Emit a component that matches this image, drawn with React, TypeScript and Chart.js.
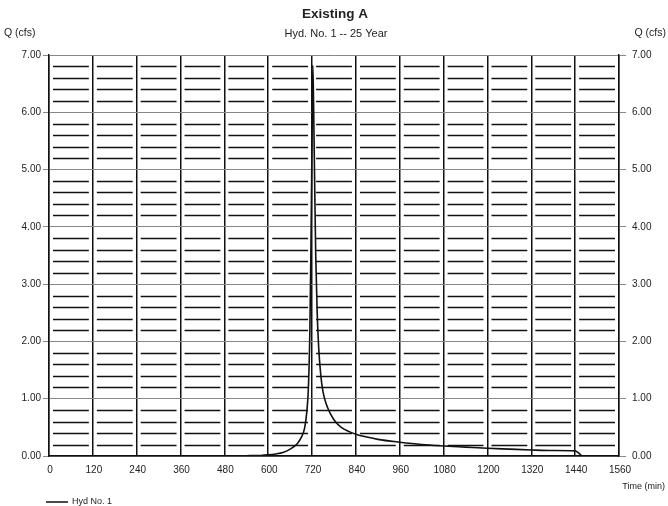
import React, { useEffect, useRef } from "react";
import { Chart, registerables } from "chart.js";

Chart.register(...registerables);

const TITLE = "Existing A";
const SUBTITLE = "Hyd. No. 1 -- 25 Year";
const Y_LABEL = "Q (cfs)";
const X_LABEL = "Time (min)";
const SERIES_NAME = "Hyd No. 1";

const timeMin = [0, 480, 540, 580, 600, 620, 640, 660, 680, 690, 700, 706, 710, 714, 717, 720, 722, 724, 727, 730, 734, 738, 744, 750, 758, 770, 785, 800, 820, 840, 870, 900, 960, 1020, 1080, 1140, 1200, 1260, 1320, 1380, 1440, 1450, 1460, 1560];
const flowCfs = [0, 0, 0.005, 0.01, 0.02, 0.035, 0.06, 0.12, 0.22, 0.32, 0.5, 0.8, 1.2, 2.2, 3.7, 5.6, 6.82, 6.2, 4.8, 3.5, 2.5, 1.9, 1.4, 1.12, 0.92, 0.74, 0.59, 0.5, 0.43, 0.38, 0.33, 0.29, 0.24, 0.2, 0.175, 0.155, 0.135, 0.12, 0.105, 0.095, 0.09, 0.05, 0, 0];

const xTicks = [0, 120, 240, 360, 480, 600, 720, 840, 960, 1080, 1200, 1320, 1440, 1560];
const yTicks = [0, 1, 2, 3, 4, 5, 6, 7];
const yMinorStep = 0.2;

const FONT = "'Liberation Sans', Arial, sans-serif";

export default function App() {
  const ref = useRef<HTMLCanvasElement | null>(null);

  useEffect(() => {
    document.body.style.margin = "0";
    const canvas = ref.current;
    if (!canvas) return;

    const decor = {
      id: "decor",
      beforeDatasetsDraw(chart: any) {
        const ctx = chart.ctx;
        const xs = chart.scales.x;
        const ys = chart.scales.y;
        ctx.save();
        ctx.strokeStyle = "#111";
        ctx.lineWidth = 1.6;
        const yMin = yTicks[0];
        const yMax = yTicks[yTicks.length - 1];
        for (let k = 1; yMin + k * yMinorStep < yMax - 1e-6; k++) {
          const v = yMin + k * yMinorStep;
          if (Math.abs(v - Math.round(v)) < 1e-6) continue;
          const py = Math.round(ys.getPixelForValue(v)) + 0.5;
          for (let i = 0; i < xTicks.length - 1; i++) {
            const a = xs.getPixelForValue(xTicks[i]) + 4;
            const b = xs.getPixelForValue(xTicks[i + 1]) - 4;
            ctx.beginPath();
            ctx.moveTo(a, py);
            ctx.lineTo(b, py);
            ctx.stroke();
          }
        }
        ctx.restore();
      },
      afterDraw(chart: any) {
        const ctx = chart.ctx;
        const xs = chart.scales.x;
        const area = chart.chartArea;
        ctx.save();
        ctx.fillStyle = "#222";
        ctx.textBaseline = "middle";
        // titles
        ctx.textAlign = "center";
        ctx.font = `bold 13.5px ${FONT}`;
        ctx.fillText(TITLE, (area.left + area.right) / 2 + 1, 14);
        ctx.font = `11px ${FONT}`;
        ctx.fillText(SUBTITLE, (area.left + area.right) / 2 + 2, 34);
        // axis titles
        ctx.font = `10.5px ${FONT}`;
        ctx.textAlign = "left";
        ctx.fillText(Y_LABEL, 4, 33);
        ctx.textAlign = "right";
        ctx.fillText(Y_LABEL, 666, 33);
        ctx.font = `9px ${FONT}`;
        ctx.fillText(X_LABEL, 665, 487);
        // x tick labels
        ctx.font = `10px ${FONT}`;
        ctx.textAlign = "center";
        xTicks.forEach((t) => {
          const px = xs.getPixelForValue(t);
          ctx.fillText(String(t), px + 1, 470);
        });
        // legend
        ctx.strokeStyle = "#111";
        ctx.lineWidth = 1.5;
        ctx.beginPath();
        ctx.moveTo(46, 502);
        ctx.lineTo(68, 502);
        ctx.stroke();
        ctx.font = `9px ${FONT}`;
        ctx.textAlign = "left";
        ctx.fillText(SERIES_NAME, 72, 502);
        ctx.restore();
      },
    };

    const chart = new Chart(canvas, {
      type: "line",
      data: {
        datasets: [
          {
            label: SERIES_NAME,
            data: timeMin.map((t, i) => ({ x: t, y: flowCfs[i] })),
            borderColor: "#111",
            borderWidth: 1.6,
            pointRadius: 0,
            fill: false,
            cubicInterpolationMode: "monotone",
            yAxisID: "y",
          },
        ],
      },
      options: {
        animation: false,
        responsive: false,
        maintainAspectRatio: false,
        devicePixelRatio: 1,
        layout: { padding: { top: 55, left: 0, right: 0, bottom: 0 } },
        plugins: {
          legend: { display: false },
          title: { display: false },
          tooltip: { enabled: false },
        },
        scales: {
          x: {
            type: "linear",
            min: xTicks[0],
            max: xTicks[xTicks.length - 1],
            afterBuildTicks: (s: any) => {
              s.ticks = xTicks.map((v) => ({ value: v }));
            },
            ticks: { display: false },
            grid: { color: "#111", lineWidth: 1.5, drawTicks: false },
            border: { display: true, color: "#111", width: 1.4 },
            afterFit: (s: any) => {
              s.height = 50;
            },
          },
          y: {
            type: "linear",
            position: "left",
            min: yTicks[0],
            max: yTicks[yTicks.length - 1],
            afterBuildTicks: (s: any) => {
              s.ticks = yTicks.map((v) => ({ value: v }));
            },
            ticks: {
              callback: (v: any) => Number(v).toFixed(2),
              font: { family: FONT, size: 10 },
              color: "#222",
              padding: 2,
            },
            grid: { color: "#888", lineWidth: 1, tickLength: 6 },
            border: { display: true, color: "#111", width: 1.4 },
            afterFit: (s: any) => {
              s.width = 49;
            },
          },
          y1: {
            type: "linear",
            position: "right",
            min: yTicks[0],
            max: yTicks[yTicks.length - 1],
            afterBuildTicks: (s: any) => {
              s.ticks = yTicks.map((v) => ({ value: v }));
            },
            ticks: {
              callback: (v: any) => Number(v).toFixed(2),
              font: { family: FONT, size: 10 },
              color: "#222",
              padding: 6,
            },
            grid: { color: "#888", lineWidth: 1, tickLength: 7, drawOnChartArea: false },
            border: { display: true, color: "#111", width: 1.4 },
            afterFit: (s: any) => {
              s.width = 49;
            },
          },
        },
      },
      plugins: [decor],
    });

    return () => chart.destroy();
  }, []);

  return (
    <div style={{ position: "absolute", left: 0, top: 0, width: 668, height: 506, background: "#fff" }}>
      <canvas ref={ref} width={668} height={506} style={{ display: "block", width: 668, height: 506 }} />
    </div>
  );
}
